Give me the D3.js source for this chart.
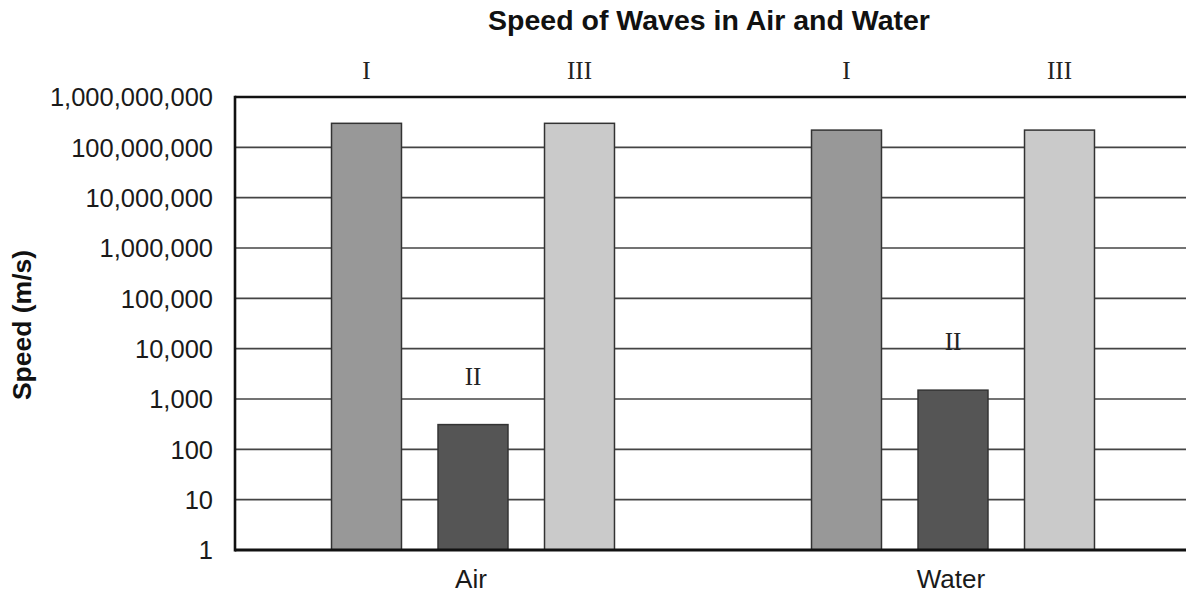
<!DOCTYPE html>
<html>
<head>
<meta charset="utf-8">
<script src="https://cdn.jsdelivr.net/npm/d3@7"></script>
<style>
  html, body { margin: 0; padding: 0; background: #fff; }
  svg { display: block; }
</style>
</head>
<body>
<svg id="chart" width="1186" height="594"></svg>
<script>
const title = "Speed of Waves in Air and Water";
const yTitle = "Speed (m/s)";
const categories = ["Air", "Water"];
const series = ["I", "II", "III"];
const airValues = [3.0e8, 310, 3.0e8];
const waterValues = [2.2e8, 1500, 2.2e8];
const tickValues = [1, 10, 100, 1e3, 1e4, 1e5, 1e6, 1e7, 1e8, 1e9];
const seriesColors = ["#989898", "#555555", "#cacaca"];

const valuesByCategory = [airValues, waterValues];

const svg = d3.select("#chart");
const W = 1186;
const plotLeft = 235, plotTop = 97, plotBottom = 550;

const y = d3.scaleLog().domain([1, 1e9]).range([plotBottom, plotTop]);
const x0 = d3.scaleBand().domain(categories).range([233, 1193]).paddingInner(0).paddingOuter(0);
const x1 = d3.scaleBand().domain(series).range([0, x0.bandwidth()]).paddingInner(0.343).paddingOuter(0.925);
const color = d3.scaleOrdinal().domain(series).range(seriesColors);

// gridlines
svg.append("g")
  .selectAll("line")
  .data(tickValues.filter(v => v !== 1 && v !== 1e9))
  .join("line")
  .attr("x1", plotLeft).attr("x2", W)
  .attr("y1", d => y(d)).attr("y2", d => y(d))
  .attr("stroke", "#444").attr("stroke-width", 1.6);

// bars
const groups = svg.append("g")
  .selectAll("g")
  .data(categories.map((c, i) => ({ cat: c, vals: valuesByCategory[i] })))
  .join("g")
  .attr("transform", d => `translate(${x0(d.cat)},0)`);

groups.selectAll("rect")
  .data(d => series.map((s, j) => ({ s, v: d.vals[j] })))
  .join("rect")
  .attr("x", d => x1(d.s))
  .attr("width", x1.bandwidth())
  .attr("y", d => y(d.v))
  .attr("height", d => plotBottom - y(d.v))
  .attr("fill", d => color(d.s))
  .attr("stroke", "#333")
  .attr("stroke-width", 1.5);

// series labels (roman numerals)
groups.selectAll("text")
  .data(d => series.map((s, j) => ({ s, v: d.vals[j] })))
  .join("text")
  .attr("x", d => x1(d.s) + x1.bandwidth() / 2)
  .attr("y", d => d.s === "II" ? y(d.v) - 40 : 79)
  .attr("text-anchor", "middle")
  .attr("font-family", "'Liberation Serif', 'Times New Roman', serif")
  .attr("font-size", 25)
  .attr("fill", "#222")
  .text(d => d.s);

// top & bottom frame lines, left axis
svg.append("line").attr("x1", plotLeft).attr("x2", W).attr("y1", plotTop).attr("y2", plotTop)
  .attr("stroke", "#111").attr("stroke-width", 2.6);
svg.append("line").attr("x1", plotLeft).attr("x2", W).attr("y1", plotBottom).attr("y2", plotBottom)
  .attr("stroke", "#111").attr("stroke-width", 2.8);
svg.append("line").attr("x1", plotLeft).attr("x2", plotLeft).attr("y1", plotTop - 1.3).attr("y2", plotBottom + 1.4)
  .attr("stroke", "#111").attr("stroke-width", 2.6);

// y tick labels
const fmt = d3.format(",");
svg.append("g")
  .selectAll("text")
  .data(tickValues)
  .join("text")
  .attr("x", 213)
  .attr("y", d => y(d))
  .attr("dy", "0.36em")
  .attr("text-anchor", "end")
  .attr("font-family", "'Liberation Sans', Arial, sans-serif")
  .attr("font-size", 25.5)
  .attr("fill", "#1a1a1a")
  .text(d => fmt(d));

// category labels
svg.append("g")
  .selectAll("text")
  .data(categories)
  .join("text")
  .attr("x", d => x0(d) + x0.bandwidth() / 2 - 2)
  .attr("y", 588)
  .attr("text-anchor", "middle")
  .attr("font-family", "'Liberation Sans', Arial, sans-serif")
  .attr("font-size", 26)
  .attr("fill", "#1a1a1a")
  .text(d => d);

// title
svg.append("text")
  .attr("x", 709)
  .attr("y", 30)
  .attr("text-anchor", "middle")
  .attr("font-family", "'Liberation Sans', Arial, sans-serif")
  .attr("font-weight", "bold")
  .attr("font-size", 28.5)
  .attr("fill", "#111")
  .text(title);

// y axis title
svg.append("text")
  .attr("transform", "translate(31,325) rotate(-90)")
  .attr("text-anchor", "middle")
  .attr("font-family", "'Liberation Sans', Arial, sans-serif")
  .attr("font-weight", "bold")
  .attr("font-size", 26.5)
  .attr("fill", "#111")
  .text(yTitle);
</script>
</body>
</html>
